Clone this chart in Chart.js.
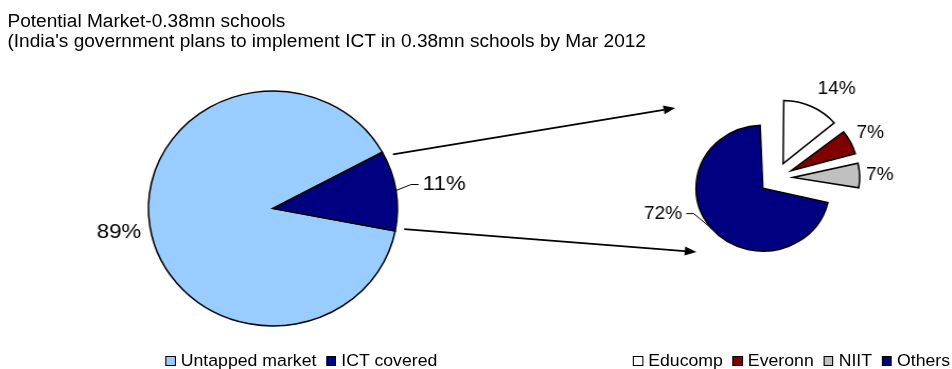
<!DOCTYPE html>
<html>
<head>
<meta charset="utf-8">
<script src="https://cdn.jsdelivr.net/npm/chart.js@4.4.0/dist/chart.umd.min.js"></script>
<style>
  html, body { margin: 0; padding: 0; background: #fff; }
  body { width: 952px; height: 369px; overflow: hidden; }
  /* the whole sheet is laid out at 898px and widened to the page */
  #stage { position: relative; width: 898px; height: 369px; transform: scaleX(1.06); transform-origin: 0 0;
           font-family: Arial, "Liberation Sans", sans-serif; color: #000; }
  .title { position: absolute; left: 7px; top: 11px; font-size: 18px; line-height: 20px; white-space: nowrap; }
  canvas { position: absolute; }
  .legend { position: absolute; display: flex; align-items: center; font-size: 16.7px; line-height: 20px; white-space: nowrap; }
  .legend .item { display: flex; align-items: center; margin-right: 9px; }
  .legend i { display: inline-block; width: 7.5px; height: 8px; border: 1.5px solid #000; margin-right: 5px; }
</style>
</head>
<body>
<div id="stage">
  <div class="title">Potential Market-0.38mn schools<br>(India's government plans to implement ICT in 0.38mn schools by Mar 2012</div>
  <canvas id="leftPie" width="381" height="301" style="left:67px; top:58px"></canvas>
  <canvas id="rightPie" width="280" height="230" style="left:592px; top:63px"></canvas>
  <canvas id="arrows" width="898" height="369" style="left:0; top:0"></canvas>
  <div class="legend" id="leftLegend" style="left:156px; top:351px"></div>
  <div class="legend" id="rightLegend" style="left:597px; top:351px"></div>
</div>
<script>
const leftLabels = ['Untapped market', 'ICT covered'];
const leftShares = [89, 11];
const leftColors = ['#99CCFF', '#000080'];

const rightLabels = ['Educomp', 'Everonn', 'NIIT', 'Others'];
const rightShares = [14, 7, 7, 72];
const rightColors = ['#FFFFFF', '#800000', '#C0C0C0', '#000080'];
const rightExplode = [64, 64, 64, 64]; // arc offset, chart.js moves a slice by a quarter of this

// where each percentage sits: distance from the centre, optional angle (deg from 12 o'clock)
const leftLabelSpots = [{ dist: 147 }, { dist: 163.5, leader: true }];
const rightLabelSpots = [{ deg: 32.3, dist: 107 }, { deg: 62.8, dist: 100 }, { deg: 87.5, dist: 98 }, { deg: 252, dist: 112, leader: true }];

// exploded arcs in chart.js also get a bigger radius when thin, keep the radius as it is
const Arc = Chart.ArcElement || Chart.elements.ArcElement;
const baseArcDraw = Arc.prototype.draw;
Arc.prototype.draw = function (ctx) {
  const r = this.outerRadius;
  const grow = (this.options.offset || 0) / 4 * (1 - Math.sin(Math.min(Math.PI, this.circumference || 0)));
  this.outerRadius = r - grow;
  baseArcDraw.call(this, ctx);
  this.outerRadius = r;
};

const pctLabels = {
  id: 'pctLabels',
  afterDatasetsDraw(chart, args, opts) {
    const ctx = chart.ctx;
    const meta = chart.getDatasetMeta(0);
    const values = chart.data.datasets[0].data;
    ctx.save();
    ctx.font = opts.size + 'px Arial, "Liberation Sans", sans-serif';
    ctx.fillStyle = '#000';
    ctx.strokeStyle = '#000';
    ctx.lineWidth = 1;
    ctx.textAlign = 'center';
    ctx.textBaseline = 'middle';
    meta.data.forEach((arc, i) => {
      const spot = opts.spots[i];
      const mid = (arc.startAngle + arc.endAngle) / 2;
      const a = spot.deg != null ? spot.deg * Math.PI / 180 - Math.PI / 2 : mid;
      const tx = arc.x + Math.cos(a) * spot.dist;
      const ty = arc.y + Math.sin(a) * spot.dist + 1;
      const text = values[i] + '%';
      ctx.fillText(text, tx, ty);
      if (spot.leader) {
        const half = ctx.measureText(text).width / 2;
        const side = tx > arc.x ? -1 : 1;
        const edge = tx + side * half;
        const reach = arc.outerRadius + (arc.options.offset || 0) / 4;
        ctx.beginPath();
        ctx.moveTo(arc.x + Math.cos(mid) * reach, arc.y + Math.sin(mid) * reach);
        ctx.lineTo(edge + side * 11, ty);
        ctx.lineTo(edge + side * 4, ty);
        ctx.stroke();
      }
    });
    ctx.restore();
  }
};

function pieConfig(labels, values, colors, rotation, radius, offsets, fontSize, spots) {
  return {
    type: 'pie',
    data: {
      labels: labels,
      datasets: [{
        data: values,
        backgroundColor: colors,
        borderColor: '#000',
        borderWidth: 1.5,
        borderJoinStyle: 'miter',
        offset: offsets
      }]
    },
    options: {
      responsive: false,
      animation: false,
      events: [],
      rotation: rotation,
      radius: radius,
      plugins: {
        legend: { display: false },
        tooltip: { enabled: false },
        pctLabels: { size: fontSize, spots: spots }
      }
    },
    plugins: [pctLabels]
  };
}

const leftCanvas = document.getElementById('leftPie');
const rightCanvas = document.getElementById('rightPie');
const leftChart = new Chart(leftCanvas, pieConfig(leftLabels, leftShares, leftColors, 101, 117.5, 0, 21, leftLabelSpots));
const rightChart = new Chart(rightCanvas, pieConfig(rightLabels, rightShares, rightColors, 0, 63, rightExplode, 18, rightLabelSpots));

function buildLegend(el, labels, colors) {
  labels.forEach((name, i) => {
    const item = document.createElement('span');
    item.className = 'item';
    const box = document.createElement('i');
    box.style.background = colors[i];
    item.appendChild(box);
    item.appendChild(document.createTextNode(name));
    el.appendChild(item);
  });
}
buildLegend(document.getElementById('leftLegend'), leftLabels, leftColors);
buildLegend(document.getElementById('rightLegend'), rightLabels, rightColors);

// arrows from the ICT slice over to the breakdown pie
function drawArrow(ctx, x1, y1, x2, y2) {
  const a = Math.atan2(y2 - y1, x2 - x1);
  const head = 11, half = 4.5;
  const bx = x2 - Math.cos(a) * head, by = y2 - Math.sin(a) * head;
  ctx.beginPath();
  ctx.moveTo(x1, y1);
  ctx.lineTo(bx, by);
  ctx.stroke();
  ctx.beginPath();
  ctx.moveTo(x2, y2);
  ctx.lineTo(bx + Math.sin(a) * half, by - Math.cos(a) * half);
  ctx.lineTo(bx - Math.sin(a) * half, by + Math.cos(a) * half);
  ctx.closePath();
  ctx.fill();
}

const ict = leftChart.getDatasetMeta(0).data[1];
const other = rightChart.getDatasetMeta(0).data[3];
const lx = leftCanvas.offsetLeft + ict.x, ly = leftCanvas.offsetTop + ict.y;
const rx = rightCanvas.offsetLeft + other.x, ry = rightCanvas.offsetTop + other.y;
const out = ict.outerRadius + 8;
const a1 = ict.startAngle + 3 * Math.PI / 180;
const a2 = ict.endAngle - 1.5 * Math.PI / 180;

const actx = document.getElementById('arrows').getContext('2d');
actx.strokeStyle = '#000';
actx.fillStyle = '#000';
actx.lineWidth = 1.8;
drawArrow(actx, lx + Math.cos(a1) * out, ly + Math.sin(a1) * out, rx - 95, ry - 70);
drawArrow(actx, lx + Math.cos(a2) * out, ly + Math.sin(a2) * out, rx - 75, ry + 74);
</script>
</body>
</html>
